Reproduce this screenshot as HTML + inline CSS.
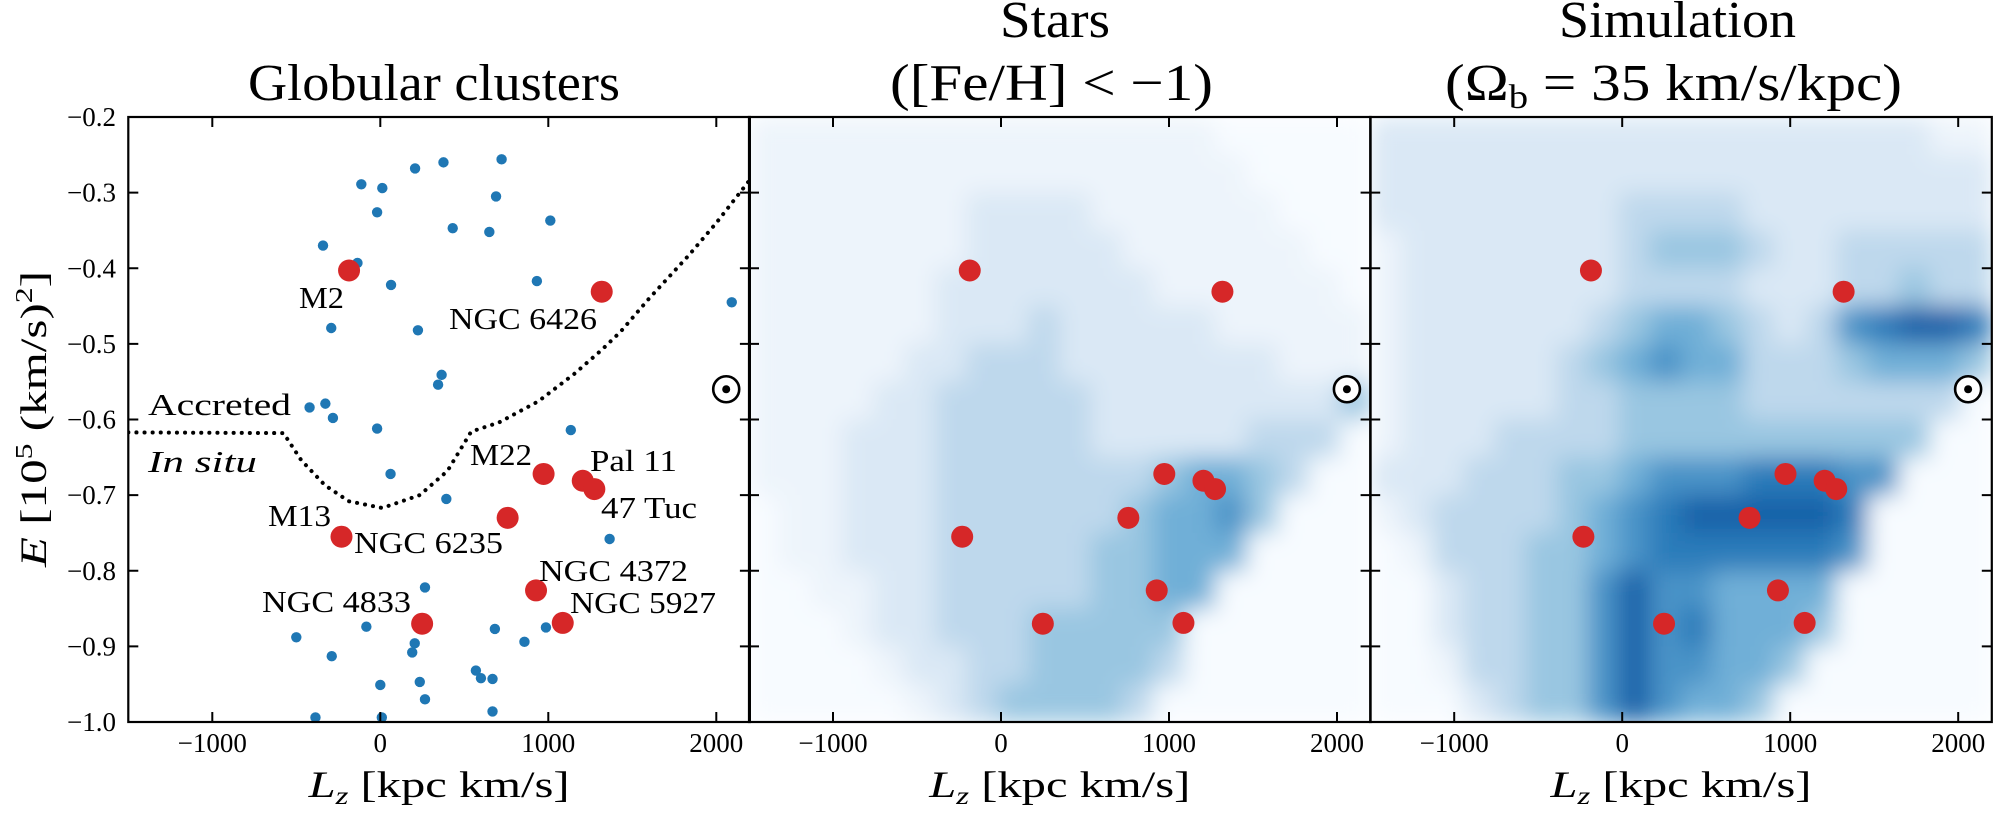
<!DOCTYPE html>
<html><head><meta charset="utf-8">
<style>
html,body{margin:0;padding:0;background:#fff;}
svg{display:block;font-family:"Liberation Serif",serif;}
</style></head>
<body>
<svg id="fig" width="1995" height="814" viewBox="0 0 1995 814" xmlns="http://www.w3.org/2000/svg">
<defs>
<filter id="blur" x="0" y="0" width="1" height="1" filterUnits="objectBoundingBox"><feGaussianBlur stdDeviation="12" edgeMode="duplicate"/></filter>
<clipPath id="clip2"><rect x="749" y="117" width="621.6" height="605"/></clipPath>
<clipPath id="clip3"><rect x="1370.2" y="117" width="621.6" height="605"/></clipPath>
<clipPath id="clip1"><rect x="128" y="117" width="621" height="605"/></clipPath>
</defs>
</svg>
<script>
// ---- data ----
const xTicks = [-1000, 0, 1000, 2000];
const xTickLabels = ["\u22121000", "0", "1000", "2000"];
const yTicks = [-0.2, -0.3, -0.4, -0.5, -0.6, -0.7, -0.8, -0.9, -1.0];
const yTickLabels = ["\u22120.2", "\u22120.3", "\u22120.4", "\u22120.5", "\u22120.6", "\u22120.7", "\u22120.8", "\u22120.9", "\u22121.0"];
const gcLz = [-113, 12, 207, 376, 722, 689, -19, 1012, 431, 649, -341, -136, 64, 932, -292, 224, 365, 344, -421, -327, -282, -19, 1134, 61, 393, 1365, 266, 2092, -500, -83, -289, 0, 190, 235, 205, 266, -386, 9, 569, 599, 668, 668, 682, 858, 986];
const gcE = [-0.289, -0.294, -0.268, -0.260, -0.256, -0.305, -0.326, -0.337, -0.347, -0.352, -0.370, -0.393, -0.422, -0.417, -0.479, -0.482, -0.541, -0.554, -0.584, -0.579, -0.598, -0.612, -0.614, -0.672, -0.705, -0.758, -0.822, -0.445, -0.888, -0.874, -0.913, -0.951, -0.908, -0.947, -0.896, -0.970, -0.994, -0.994, -0.932, -0.942, -0.943, -0.986, -0.877, -0.894, -0.875];
const namedNames = ["M2", "NGC 6426", "M22", "Pal 11", "47 Tuc", "NGC 6235", "M13", "NGC 4372", "NGC 4833", "NGC 5927"];
const namedLz = [-186, 1318, 972, 1205, 1274, 758, -231, 927, 249, 1086];
const namedE = [-0.403, -0.431, -0.672, -0.681, -0.692, -0.730, -0.755, -0.826, -0.870, -0.869];
const sunLz = 2059, sunE = -0.560;
const divLz = [-1500, -576, -470, -329, -188, 12, 235, 400, 541, 706, 941, 1153, 1318, 1430, 1600, 1836, 2000, 2200];
const divE = [-0.617, -0.618, -0.654, -0.687, -0.708, -0.717, -0.700, -0.668, -0.616, -0.604, -0.576, -0.540, -0.508, -0.484, -0.440, -0.383, -0.340, -0.283];
// heatmap grids: 20 Lz bins (-1500..2200), 16 E bins (-0.2..-1.0), density level 0-9
const starsGrid = [
"11111111111111100000",
"11111111111111110000",
"11111112222111111000",
"11111112222211111100",
"11111122222221111110",
"11111122232222211111",
"11111223332222222111",
"11112233333222222224",
"11122233333222223330",
"11122233333334554300",
"01122233333345564000",
"01122233333445550000",
"00112233333445500000",
"00012233344444000000",
"00001223344443000000",
"00000123444430000000"];
const simGrid = [
"22222222222222222211",
"22222222222222222222",
"22222222333322222222",
"12222222344432233333",
"12222222333322233433",
"12222223455432367887",
"12222234565533345554",
"12222233444433333330",
"12223333444444444400",
"22233344566677766000",
"12333345678888870000",
"01333445677777760000",
"00233446866555500000",
"00233446867555400000",
"00133446866554000000",
"00023446865540000000"];
const cmap = ["#f7fbff","#edf4fb","#dae8f5","#bed8ec","#99c6e1","#70afd7","#4893c7","#2c7bba","#1462a9","#0a4f99"];

// ---- layout ----
const SVGNS = "http://www.w3.org/2000/svg";
const svg = document.getElementById('fig');
const panels = [128.3, 749.0, 1370.2];
const PW = 621.6, TOP = 117, BOT = 722;
const LZMIN = -1500, LZMAX = 2200, EMAX = -0.2, EMIN = -1.0;
function xs(p, lz){ return panels[p] + (lz - LZMIN) / (LZMAX - LZMIN) * PW; }
function ys(e){ return TOP + (EMAX - e) / (EMAX - EMIN) * (BOT - TOP); }
function mk(tag, attrs, parent){
  const el = document.createElementNS(SVGNS, tag);
  for (const k in attrs) el.setAttribute(k, attrs[k]);
  (parent || svg).appendChild(el);
  return el;
}

// ---- heatmaps ----
function heat(p, grid, name){
  const g = mk('g', {'clip-path': 'url(#clip' + (p+1) + ')'});
  
  
  const inner = mk('g', {filter: 'url(#blur)'}, g);
  const nx = grid[0].length, ny = grid.length;
  const dLz = (LZMAX - LZMIN) / nx, dE = (EMAX - EMIN) / ny;
  mk('rect', {x: panels[p], y: TOP, width: PW, height: BOT-TOP, fill: cmap[0]}, inner);
  for (let r = 0; r < ny; r++){
    for (let c = 0; c < nx; c++){
      const v = +grid[r][c];
      const x0 = xs(p, LZMIN + c*dLz), x1 = xs(p, LZMIN + (c+1)*dLz);
      const y0 = ys(EMAX - r*dE), y1 = ys(EMAX - (r+1)*dE);
      const cell = mk('rect', {x: x0, y: y0, width: x1-x0+0.5, height: y1-y0+0.5, fill: cmap[v]}, inner);
      
      
    }
  }
}
heat(1, starsGrid, 'stars-heatmap');
heat(2, simGrid, 'simulation-heatmap');

// ---- panel 1 scatter ----
for (let i = 0; i < gcLz.length; i++){
  const c = mk('circle', {cx: xs(0, gcLz[i]), cy: ys(gcE[i]), r: 5.2, fill: '#1f77b4', 'clip-path': 'url(#clip1)'});
  
  
}
// dividing line
let d = '';
for (let i = 0; i < divLz.length; i++) d += (i ? 'L' : 'M') + xs(0, divLz[i]).toFixed(1) + ',' + ys(divE[i]).toFixed(1);
const dl = mk('path', {d: d, fill: 'none', stroke: '#000', 'stroke-width': 4, 'stroke-dasharray': '0.1 8', 'stroke-linecap': 'round', 'clip-path': 'url(#clip1)'});



// ---- named clusters and sun in every panel ----
for (let p = 0; p < 3; p++){
  for (let i = 0; i < namedLz.length; i++){
    const c = mk('circle', {cx: xs(p, namedLz[i]), cy: ys(namedE[i]), r: 11, fill: '#d62728'});
    
    
  }
  const sx = xs(p, sunLz), sy = ys(sunE);
  const sg = mk('g', {});
  
  
  mk('circle', {cx: sx, cy: sy, r: 13, fill: '#fff', stroke: '#000', 'stroke-width': 2.6}, sg);
  mk('circle', {cx: sx, cy: sy, r: 4, fill: '#000'}, sg);
}

// ---- axes ----
for (let p = 0; p < 3; p++){
  const ax = mk('g', {});
  
  
  mk('rect', {x: panels[p], y: TOP, width: PW, height: BOT-TOP, fill: 'none', stroke: '#000', 'stroke-width': 2.2}, ax);
  for (let i = 0; i < xTicks.length; i++){
    const x = xs(p, xTicks[i]);
    mk('line', {x1: x, x2: x, y1: BOT, y2: BOT-10, stroke: '#000', 'stroke-width': 2}, ax);
    mk('line', {x1: x, x2: x, y1: TOP, y2: TOP+10, stroke: '#000', 'stroke-width': 2}, ax);
    const t = mk('text', {x: x, y: 752, 'text-anchor': 'middle', 'font-size': 27}, ax);
    t.textContent = xTickLabels[i];
    
    
  }
  for (let i = 0; i < yTicks.length; i++){
    const y = ys(yTicks[i]);
    mk('line', {x1: panels[p], x2: panels[p]+10, y1: y, y2: y, stroke: '#000', 'stroke-width': 2}, ax);
    mk('line', {x1: panels[p]+PW, x2: panels[p]+PW-10, y1: y, y2: y, stroke: '#000', 'stroke-width': 2}, ax);
    if (p === 0){
      const t = mk('text', {x: 116, y: y + 9, 'text-anchor': 'end', 'font-size': 27}, ax);
      t.textContent = yTickLabels[i];
      
      
    }
  }
  const xl = mk('text', {x: panels[p] + PW/2, y: 797, 'text-anchor': 'middle', 'font-size': 37, textLength: 261, lengthAdjust: 'spacingAndGlyphs'});
  xl.innerHTML = '<tspan font-style="italic">L</tspan><tspan font-style="italic" font-size="25" dy="7">z</tspan><tspan dy="-7"> [kpc km/s]</tspan>';
  
  
}
</script>
<svg style="position:absolute;left:0;top:0" width="1995" height="814">
<g font-family="'Liberation Serif', serif">
<text transform="translate(46,419) rotate(-90)" text-anchor="middle" font-size="37" textLength="296" lengthAdjust="spacingAndGlyphs"><tspan font-style="italic">E</tspan> [10<tspan font-size="24" dy="-14">5</tspan><tspan dy="14"> (km/s)</tspan><tspan font-size="24" dy="-14">2</tspan><tspan dy="14">]</tspan></text>
<text x="248" y="100" font-size="52" textLength="372" lengthAdjust="spacingAndGlyphs">Globular clusters</text>
<text x="1000" y="37" font-size="52" textLength="110" lengthAdjust="spacingAndGlyphs">Stars</text>
<text x="890" y="100" font-size="52" textLength="323" lengthAdjust="spacingAndGlyphs">([Fe/H] &lt; −1)</text>
<text x="1559" y="37" font-size="52" textLength="237" lengthAdjust="spacingAndGlyphs">Simulation</text>
<text x="1445" y="100" font-size="52" textLength="457" lengthAdjust="spacingAndGlyphs">(Ω<tspan font-size="34" dy="8">b</tspan><tspan dy="-8"> = 35 km/s/kpc)</tspan></text>
<g font-size="31">
<text x="299" y="308" textLength="45" lengthAdjust="spacingAndGlyphs">M2</text>
<text x="449" y="329" textLength="148" lengthAdjust="spacingAndGlyphs">NGC 6426</text>
<text x="148" y="415" textLength="143" lengthAdjust="spacingAndGlyphs">Accreted</text>
<text x="148" y="472" font-style="italic" textLength="109" lengthAdjust="spacingAndGlyphs">In situ</text>
<text x="470" y="465" textLength="62" lengthAdjust="spacingAndGlyphs">M22</text>
<text x="590" y="471" textLength="87" lengthAdjust="spacingAndGlyphs">Pal 11</text>
<text x="601" y="518" textLength="96" lengthAdjust="spacingAndGlyphs">47 Tuc</text>
<text x="268" y="526" textLength="63" lengthAdjust="spacingAndGlyphs">M13</text>
<text x="354" y="553" textLength="149" lengthAdjust="spacingAndGlyphs">NGC 6235</text>
<text x="539" y="581" textLength="149" lengthAdjust="spacingAndGlyphs">NGC 4372</text>
<text x="262" y="612" textLength="149" lengthAdjust="spacingAndGlyphs">NGC 4833</text>
<text x="570" y="613" textLength="146" lengthAdjust="spacingAndGlyphs">NGC 5927</text>
</g>
</g>
</svg>
</body></html>
